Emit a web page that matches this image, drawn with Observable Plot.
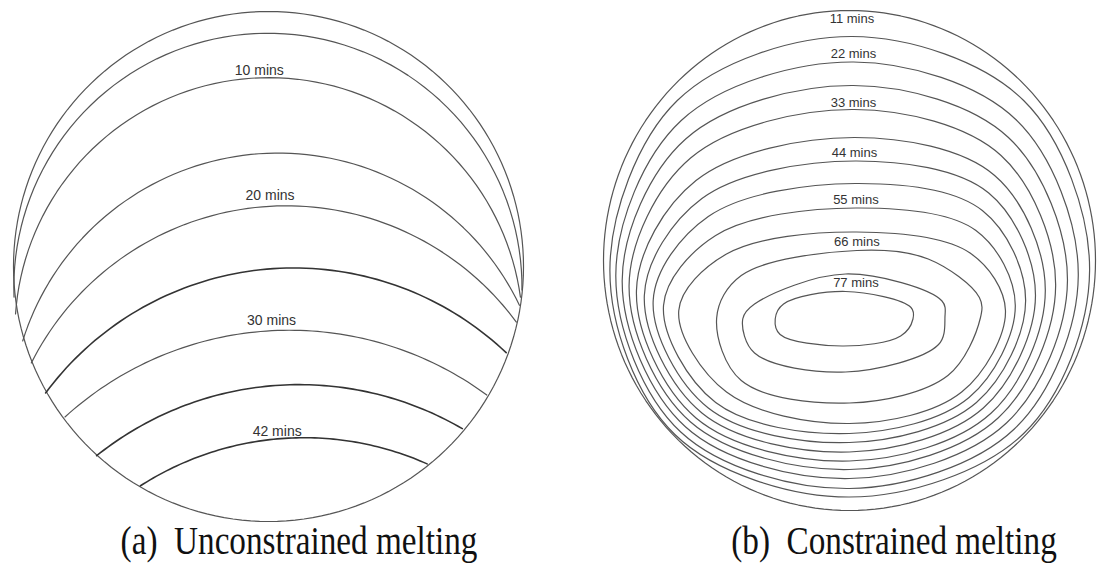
<!DOCTYPE html>
<html>
<head>
<meta charset="utf-8">
<script src="https://cdn.jsdelivr.net/npm/d3@7"></script>
<script src="https://cdn.jsdelivr.net/npm/@observablehq/plot@0.6"></script>
<style>
  body { margin: 0; background: #fff; width: 1099px; height: 565px; overflow: hidden; position: relative; }
  #row { display: flex; }
  .cap {
    position: absolute; top: 517px;
    font-family: "Liberation Serif", "Times New Roman", serif;
    font-size: 40px; color: #111; white-space: pre;
    transform: translateX(-50%) scaleX(0.83);
  }
</style>
</head>
<body>
<div id="row"></div>
<div class="cap" style="left:299px">(a)  Unconstrained melting</div>
<div class="cap" style="left:894px">(b)  Constrained melting</div>
<script>
// Cross-section of the cylindrical vessel, coordinates in mm from its axis.
const wallRadius = 50;

// (a) Unconstrained melting: each melt front meets the wall at a left and a
// right point and passes through a crest point near the axis.
const frontLeft  = [[-49.9, -6.0], [-49.6, -9.3], [-48.2, -14.6], [-46.5, -18.9],
                    [-43.7, -24.8], [-39.9, -29.5], [-33.7, -37.1], [-25.1, -43.0]];
const frontCrest = [[1.8, 45.7], [1.8, 37.0], [3.9, 22.2], [3.9, 11.9],
                    [3.9, -0.3], [3.9, -12.5], [3.9, -23.2], [1.8, -33.8]];
const frontRight = [[49.7, -4.6], [49.4, -6.0], [49.2, -7.6], [48.6, -10.9],
                    [46.6, -16.9], [42.8, -25.2], [38.0, -31.8], [31.1, -38.7]];
const frontLabel = ["", "10 mins", "", "20 mins", "", "30 mins", "", "42 mins"];
const labelA = [[-1.8, 38.4], [0.3, 13.9], [0.6, -10.5], [1.7, -32.3]];

// (b) Constrained melting: closed solid-liquid interfaces, outer to inner.
const contourB = [
  [[0.5,44.8],[35.4,32],[48.8,-2],[35.4,-34.6],[0,-47.3],[-35.5,-34.8],[-48.7,-2],[-35,32]],
  [[0.8,39.7],[33.8,28.2],[46.5,-3],[33.5,-33.7],[0,-45.6],[-34.3,-34.3],[-47.5,-3],[-34.2,28]],
  [[0.8,35],[32.3,24.6],[44.3,-4],[31.9,-32.5],[0,-43.6],[-33.3,-33.3],[-46.2,-4],[-33.3,24.3]],
  [[1,30.2],[30.8,21],[41.9,-5],[30.2,-31.5],[0,-41.8],[-32.3,-32.3],[-44.8,-5],[-32.3,20.5]],
  [[1,24.6],[29.5,17],[39.8,-6],[28.7,-30.6],[0,-40.1],[-31.2,-31.5],[-43.3,-6],[-31.2,16]],
  [[1.2,19.9],[28.3,13.5],[37.8,-7],[27.2,-29.5],[0,-38.3],[-30,-30.5],[-41.7,-7],[-30,12.4]],
  [[1.2,15.4],[27,10],[35.8,-8],[25.8,-28.4],[0,-36.4],[-28.7,-29.5],[-39.9,-8],[-28.7,8.8]],
  [[1.3,10.5],[25.7,6],[33.7,-9],[24.3,-27.4],[0,-34.6],[-27.2,-28.4],[-37.8,-9],[-27.2,5]],
  [[1.4,5.7],[24.5,1.5],[31.7,-10],[22.8,-26.3],[0,-32.6],[-25,-26.3],[-34.7,-10],[-25,1.3]],
  [[1.5,2],[16,0.3],[26.4,-7.4],[26.6,-11.5],[20,-23],[0,-28.5],[-22,-24],[-27,-11.5],[-22,-3]],
  [[-0.8,-2.7],[18.8,-8.1],[19.4,-11.4],[18.1,-16.8],[-0.8,-22.3],[-19.3,-18.5],[-21.7,-11.7],[-19.3,-8.7]],
  [[-0.8,-6.2],[12.5,-9.4],[12.9,-11.7],[10.4,-15.1],[-1.5,-17.1],[-14.1,-14.8],[-15.1,-11.7],[-13.4,-8.7]]
];
const labelB = ["11 mins", "22 mins", "33 mins", "44 mins", "55 mins", "66 mins", "77 mins"];
const labelBPos = [[0.5, 48.3], [0.8, 41.4], [0.8, 31.5], [1.0, 21.5], [1.3, 12.2], [1.5, 3.7], [1.3, -4.4]];

// Wall outline
const wall = d3.range(0, 361, 2).map(a => ({
  x: wallRadius * Math.cos(a * Math.PI / 180),
  y: wallRadius * Math.sin(a * Math.PI / 180)
}));

// Circle through three points
function circleThrough([ax, ay], [bx, by], [cx, cy]) {
  const d = 2 * (ax * (by - cy) + bx * (cy - ay) + cx * (ay - by));
  const a2 = ax * ax + ay * ay, b2 = bx * bx + by * by, c2 = cx * cx + cy * cy;
  const ux = (a2 * (by - cy) + b2 * (cy - ay) + c2 * (ay - by)) / d;
  const uy = (a2 * (cx - bx) + b2 * (ax - cx) + c2 * (bx - ax)) / d;
  return [ux, uy, Math.hypot(ax - ux, ay - uy)];
}

// Each melt front is the circular arc through its three points
const fronts = frontLeft.flatMap((L, i) => {
  const R = frontRight[i];
  const [ux, uy, r] = circleThrough(L, frontCrest[i], R);
  const t0 = Math.atan2(R[1] - uy, R[0] - ux);
  let t1 = Math.atan2(L[1] - uy, L[0] - ux);
  if (t1 < t0) t1 += 2 * Math.PI;
  const n = 80;
  return d3.range(n + 1).map(k => {
    const t = t0 + (t1 - t0) * k / n;
    return { id: i, x: ux + r * Math.cos(t), y: uy + r * Math.sin(t) };
  });
});
const heavyFronts = new Set([4, 6, 7]);

const labelsA = frontLabel
  .map((text) => ({ text }))
  .filter(d => d.text)
  .map((d, j) => ({ text: d.text, x: labelA[j][0], y: labelA[j][1] }));

const contours = contourB.flatMap((pts, i) => pts.map(([x, y]) => ({ id: i, x, y })));
const labelsB = labelB.map((text, i) => ({ text, x: labelBPos[i][0], y: labelBPos[i][1] }));

const lineColor = "#555";
const labelFont = "'Liberation Sans', Arial, sans-serif";

const plotA = Plot.plot({
  width: 550, height: 525,
  marginLeft: 13, marginRight: 27, marginTop: 11, marginBottom: 4,
  x: { domain: [-wallRadius, wallRadius], axis: null },
  y: { domain: [-wallRadius, wallRadius], axis: null },
  marks: [
    Plot.line(wall, { x: "x", y: "y", stroke: lineColor, strokeWidth: 1.2 }),
    Plot.line(fronts.filter(d => !heavyFronts.has(d.id)), { x: "x", y: "y", z: "id", stroke: lineColor, strokeWidth: 1.2 }),
    Plot.line(fronts.filter(d => heavyFronts.has(d.id)), { x: "x", y: "y", z: "id", stroke: "#333", strokeWidth: 1.6 }),
    Plot.text(labelsA, { x: "x", y: "y", text: "text", fontSize: 14, fill: "#333", fontFamily: labelFont })
  ]
});

const plotB = Plot.plot({
  width: 549, height: 525,
  marginLeft: 53, marginRight: 4, marginTop: 10, marginBottom: 15,
  x: { domain: [-wallRadius, wallRadius], axis: null },
  y: { domain: [-wallRadius, wallRadius], axis: null },
  marks: [
    Plot.line(wall, { x: "x", y: "y", stroke: lineColor, strokeWidth: 1.2 }),
    Plot.line(contours, { x: "x", y: "y", z: "id", curve: "catmull-rom-closed", stroke: lineColor, strokeWidth: 1.2 }),
    Plot.text(labelsB, { x: "x", y: "y", text: "text", fontSize: 13, fill: "#333", fontFamily: labelFont })
  ]
});

document.getElementById("row").append(plotA, plotB);
</script>
</body>
</html>
